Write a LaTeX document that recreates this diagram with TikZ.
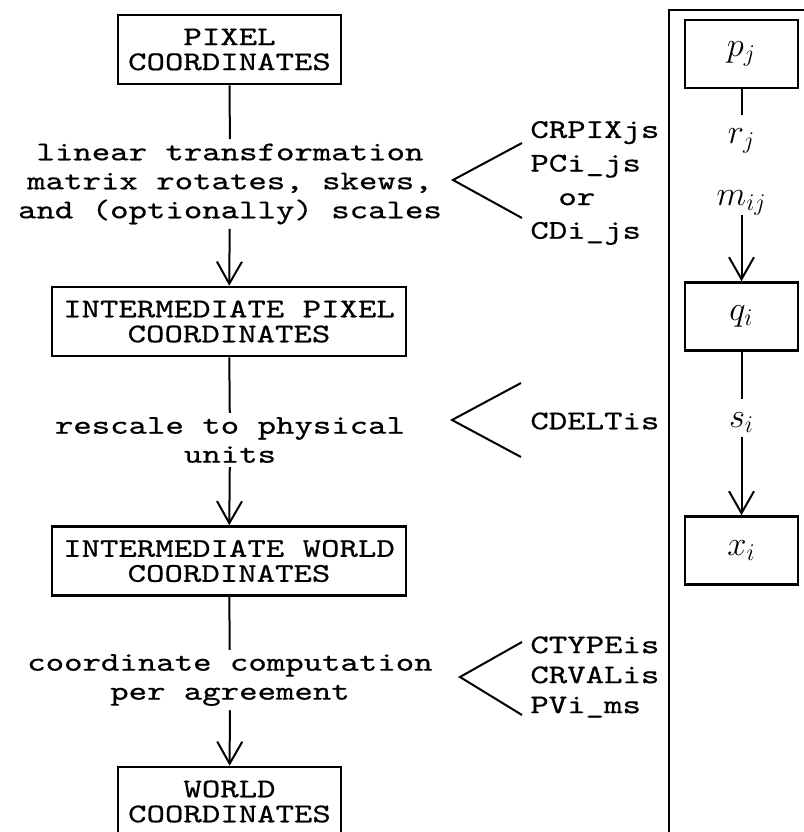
\documentclass[tikz,border=0pt]{standalone}
\usepackage{fontspec}
\setmonofont{lmmono10-regular.otf}[FakeStretch=1.3,FakeBold=0.6]
\usepackage{tikz}
\usetikzlibrary{arrows.meta}
\tikzset{
  stage/.style={draw,line width=1.3pt,inner sep=0pt,minimum height=34.5pt,
    align=center,font=\ttfamily\fontsize{13.5}{12.5}\selectfont},
  remark/.style={inner sep=2pt,align=center,font=\ttfamily\fontsize{13.5}{14.5}\selectfont},
  keys/.style={inner sep=0pt,align=left,font=\ttfamily\fontsize{13.5}{15}\selectfont},
  symbox/.style={draw,line width=1.3pt,inner sep=0pt,minimum width=56.5pt,
    minimum height=34pt,font=\fontsize{17}{20}\selectfont},
  sym/.style={inner sep=1pt,text height=13pt,text depth=4pt,font=\fontsize{17}{20}\selectfont},
  link/.style={line width=1pt},
  fork/.style={line width=1pt},
  panel/.style={line width=0.7pt},
  >={Straight Barb[length=11pt,width=12.5pt]}
}
\begin{document}
\begin{tikzpicture}[x=0.5pt,y=-0.5pt]
\useasboundingbox (0,0) rectangle (804,832);
\clip (0,0) rectangle (804,832);

% left column
\node[stage,minimum width=111.5pt] (pix) at (229.5,49.5) {PIXEL\\COORDINATES};
\node[stage,minimum width=177pt] (ipix) at (229,321.5) {INTERMEDIATE PIXEL\\COORDINATES};
\node[stage,minimum width=177pt] (iwld) at (229,561) {INTERMEDIATE WORLD\\COORDINATES};
\node[stage,minimum width=111.5pt] (wld) at (229.5,801.5) {WORLD\\COORDINATES};

\node[remark] (lintr) at (230,184) {linear transformation\\matrix rotates, skews,\\and (optionally) scales};
\node[remark] (resc) at (230,440) {rescale to physical\\units};
\node[remark] (comp) at (230,680) {coordinate computation\\per agreement};

\draw[link] (pix) -- (lintr);
\draw[link,->] (lintr) -- (ipix);
\draw[link] (ipix) -- (resc);
\draw[link,->] (resc) -- (iwld);
\draw[link] (iwld) -- (comp);
\draw[link,->] (comp) -- (wld);

% keywords
\node[keys,anchor=west,font=\ttfamily\fontsize{13.5}{16.8}\selectfont] (kpix) at (530,183)
  {CRPIXjs\\PCi\_js\\\hspace*{14pt}or\\CDi\_js};
\node[keys,anchor=west] (kdelt) at (530,421) {CDELTis};
\node[keys,anchor=west] (kwld) at (530,677) {CTYPEis\\CRVALis\\PVi\_ms};

\draw[fork] (522,143) -- (453,180) -- (522,218);
\draw[fork] (521,383) -- (452,420) -- (521,457);
\draw[fork] (522,642) -- (460,677) -- (522,715);

% right panel
\draw[panel] (669,900) -- (669,10) -- (900,10);
\node[symbox] (pj) at (741.5,54) {$p_j$};
\node[symbox] (qi) at (741.5,316.5) {$q_i$};
\node[symbox] (xi) at (741.5,550.5) {$x_i$};
\node[sym,anchor=base] (rj) at (741.5,143) {$r_j$};
\node[sym,anchor=base] (mij) at (741.5,205) {$m_{ij}$};
\node[sym,anchor=base] (si) at (741.5,427) {$s_i$};

\draw[link] (pj) -- (rj);
\draw[link,->] (mij) -- (qi);
\draw[link] (qi) -- (si);
\draw[link,->] (si) -- (xi);
\end{tikzpicture}
\end{document}
